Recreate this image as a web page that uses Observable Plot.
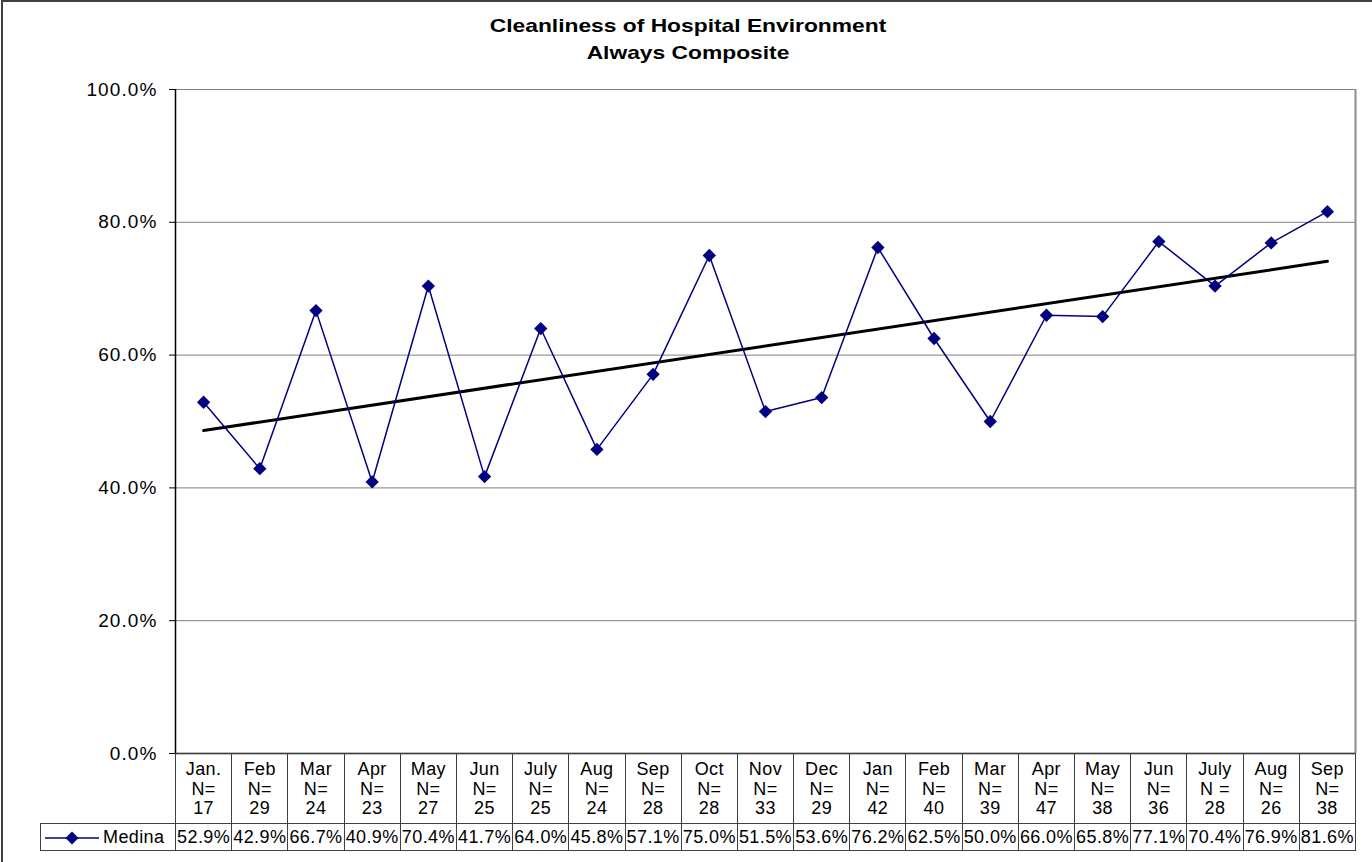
<!DOCTYPE html>
<html><head><meta charset="utf-8">
<script src="https://cdn.jsdelivr.net/npm/d3@7"></script>
<script src="https://cdn.jsdelivr.net/npm/@observablehq/plot@0.6"></script>
<style>
body{margin:0;background:#fff;font-family:"Liberation Sans",Arial,sans-serif;}
#wrap{position:relative;width:1372px;height:862px;overflow:hidden;background:#fff;}
#frame{position:absolute;left:1px;top:0;width:1500px;height:1000px;border-left:2px solid #404040;border-top:2px solid #404040;z-index:5;pointer-events:none;}
#title{position:absolute;top:12px;left:0;width:1376px;text-align:center;font-weight:bold;font-size:19px;line-height:27px;color:#000;}
#title div{transform:scaleX(1.2);}
#chart{position:absolute;left:0;top:70px;}
#chart svg text{font-size:19px;letter-spacing:1.1px;}
table{position:absolute;left:40px;top:753px;border-collapse:collapse;table-layout:fixed;width:1315px;font-size:18px;letter-spacing:0.4px;color:#000;}
td{border:1px solid #404040;text-align:center;padding:0;white-space:nowrap;overflow:visible;}
tr.cat td{height:70px;vertical-align:top;line-height:19.5px;padding-top:6px;box-sizing:border-box;}
tr.cat td.blank{border:none;}
tr.val td{height:26px;line-height:24px;}
td.leg{text-align:left;padding-left:4px;}
td.leg svg{vertical-align:middle;margin-right:4px;}
</style>
</head><body>
<div id="wrap">
  <div id="frame"></div>
  <div id="title"></div>
  <div id="chart"></div>
  <table id="tbl"></table>
</div>
<script>
const months = ["Jan.","Feb","Mar","Apr","May","Jun","July","Aug","Sep","Oct","Nov","Dec","Jan","Feb","Mar","Apr","May","Jun","July","Aug","Sep"];
const nLabels = ["N=","N=","N=","N=","N=","N=","N=","N=","N=","N=","N=","N=","N=","N=","N=","N=","N=","N=","N =","N=","N="];
const counts = [17,29,24,23,27,25,25,24,28,28,33,29,42,40,39,47,38,36,28,26,38];
const values = [52.9,42.9,66.7,40.9,70.4,41.7,64.0,45.8,57.1,75.0,51.5,53.6,76.2,62.5,50.0,66.0,65.8,77.1,70.4,76.9,81.6];
const seriesName = "Medina";
const titleLines = ["Cleanliness of Hospital Environment","Always Composite"];
const yTicks = [0,20,40,60,80,100];

const navy = "#000080";
const fmt = d => d.toFixed(1) + "%";

// title
const t = document.getElementById("title");
titleLines.forEach(s => { const d = document.createElement("div"); d.textContent = s; t.appendChild(d); });

const data = values.map((v, i) => ({i, v}));

const chart = Plot.plot({
  width: 1372, height: 700,
  marginLeft: 175, marginRight: 17, marginTop: 19, marginBottom: 17,
  x: {domain: [-0.5, months.length - 0.5], axis: null},
  y: {domain: [0, 100], axis: null},
  style: {fontFamily: '"Liberation Sans", Arial, sans-serif', fontSize: "19px", color: "#000", background: "transparent", overflow: "visible"},
  marks: [
    Plot.ruleY(yTicks.filter(d => d > 0), {stroke: "#808080", strokeWidth: 1, strokeOpacity: 1}),
    Plot.ruleX([months.length - 0.5], {stroke: "#8c8c8c", strokeWidth: 2, strokeOpacity: 1}),
    Plot.axisY({ticks: yTicks, tickFormat: fmt, tickSize: 6, tickPadding: 12, label: null, fontSize: 19}),
    Plot.linearRegressionY(data, {x: "i", y: "v", stroke: "#000", strokeWidth: 3, ci: 0}),
    Plot.line(data, {x: "i", y: "v", stroke: navy, strokeWidth: 1.5}),
    Plot.dot(data, {x: "i", y: "v", symbol: "diamond2", r: 6, fill: navy, stroke: "none"}),
    Plot.ruleX([-0.5], {stroke: "#000", strokeWidth: 1.5}),
    Plot.ruleY([0], {stroke: "#000", strokeWidth: 1.5})
  ]
});
document.getElementById("chart").appendChild(chart);

// data table below the plot
const tbl = document.getElementById("tbl");
const cg = document.createElement("colgroup");
const c0 = document.createElement("col"); c0.style.width = "135px"; cg.appendChild(c0);
months.forEach(() => { const c = document.createElement("col"); c.style.width = (1180 / months.length) + "px"; cg.appendChild(c); });
tbl.appendChild(cg);

const r1 = document.createElement("tr"); r1.className = "cat";
const b = document.createElement("td"); b.className = "blank"; r1.appendChild(b);
months.forEach((m, i) => {
  const td = document.createElement("td");
  td.innerHTML = m + "<br>" + nLabels[i] + "<br>" + counts[i];
  r1.appendChild(td);
});
tbl.appendChild(r1);

const r2 = document.createElement("tr"); r2.className = "val";
const lg = document.createElement("td"); lg.className = "leg";
lg.innerHTML = '<svg width="54" height="14"><line x1="0" y1="7" x2="54" y2="7" stroke="' + navy + '" stroke-width="1.5"/><path d="M27,0.5L33.5,7L27,13.5L20.5,7Z" fill="' + navy + '"/></svg>' + seriesName;
r2.appendChild(lg);
values.forEach(v => {
  const td = document.createElement("td");
  td.textContent = fmt(v);
  r2.appendChild(td);
});
tbl.appendChild(r2);
</script>
</body></html>
